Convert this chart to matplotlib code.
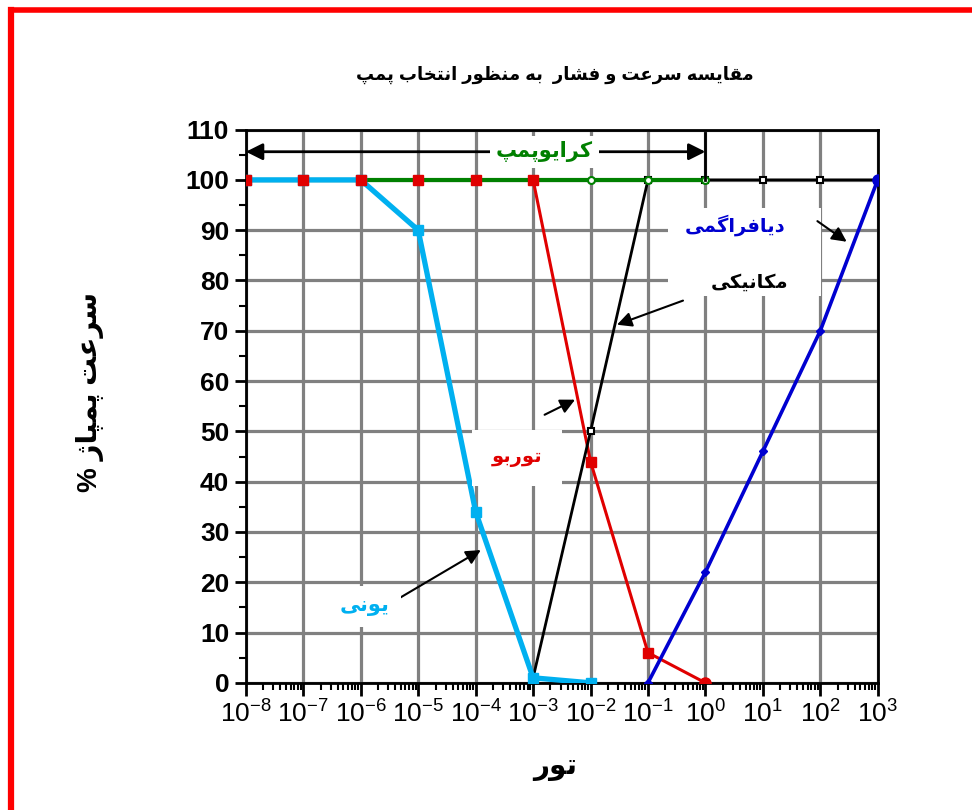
#!/usr/bin/env python3

# Pump speed vs pressure chart (Persian labels).

import numpy as np
import matplotlib
matplotlib.use("Agg")
import matplotlib.pyplot as plt
from matplotlib.ticker import MultipleLocator, LogLocator, NullFormatter
from matplotlib.patches import Rectangle

plt.rcParams['font.family'] = ['Liberation Sans', 'DejaVu Sans']
plt.rcParams['mathtext.fontset'] = 'custom'
plt.rcParams['mathtext.rm'] = 'Liberation Sans'
plt.rcParams['mathtext.it'] = 'Liberation Sans:italic'
plt.rcParams['mathtext.bf'] = 'Liberation Sans:bold'

# Arabic presentation forms: isolated, final, initial, medial
FORMS = {
    'ا': ('\uFE8D', '\uFE8E', None, None),
    'ب': ('\uFE8F', '\uFE90', '\uFE91', '\uFE92'),
    'ت': ('\uFE95', '\uFE96', '\uFE97', '\uFE98'),
    'خ': ('\uFEA5', '\uFEA6', '\uFEA7', '\uFEA8'),
    'د': ('\uFEA9', '\uFEAA', None, None),
    'ر': ('\uFEAD', '\uFEAE', None, None),
    'ژ': ('\uFB8A', '\uFB8B', None, None),
    'س': ('\uFEB1', '\uFEB2', '\uFEB3', '\uFEB4'),
    'ش': ('\uFEB5', '\uFEB6', '\uFEB7', '\uFEB8'),
    'ظ': ('\uFEC5', '\uFEC6', '\uFEC7', '\uFEC8'),
    'ع': ('\uFEC9', '\uFECA', '\uFECB', '\uFECC'),
    'ف': ('\uFED1', '\uFED2', '\uFED3', '\uFED4'),
    'ق': ('\uFED5', '\uFED6', '\uFED7', '\uFED8'),
    'ک': ('\uFB8E', '\uFB8F', '\uFB90', '\uFB91'),
    'گ': ('\uFB92', '\uFB93', '\uFB94', '\uFB95'),
    'م': ('\uFEE1', '\uFEE2', '\uFEE3', '\uFEE4'),
    'ن': ('\uFEE5', '\uFEE6', '\uFEE7', '\uFEE8'),
    'ه': ('\uFEE9', '\uFEEA', '\uFEEB', '\uFEEC'),
    'و': ('\uFEED', '\uFEEE', None, None),
    'پ': ('\uFB56', '\uFB57', '\uFB58', '\uFB59'),
    'ی': ('\uFBFC', '\uFBFD', '\uFBFE', '\uFBFF'),
}


def fa(s):
    """Shape Persian text and put it in visual (left-to-right) order."""
    out = []
    for i, c in enumerate(s):
        if c not in FORMS:
            out.append(c)
            continue
        prev = s[i - 1] if i > 0 else ''
        nxt = s[i + 1] if i + 1 < len(s) else ''
        iso, fin, ini, med = FORMS[c]
        jp = prev in FORMS and FORMS[prev][2] is not None
        jn = nxt in FORMS and ini is not None
        if jp and jn:
            out.append(med)
        elif jp:
            out.append(fin)
        elif jn:
            out.append(ini)
        else:
            out.append(iso)
    return ''.join(out)[::-1]


# Data (x as log10 of pressure in torr)
ion_x = [-8, -7, -6, -5, -4, -3, -2]
ion_y = [100, 100, 100, 90, 34, 1, 0]

turbo_x = [-8, -7, -6, -5, -4, -3, -2, -1, 0]
turbo_y = [100, 100, 100, 100, 100, 100, 44, 6, 0]

mech_x = [-3, -2, -1, 0, 1, 2, 3]
mech_y = [1, 50, 100, 100, 100, 100, 100]

cryo_x = [-8, -7, -6, -5, -4, -3, -2, -1, 0]
cryo_y = [100, 100, 100, 100, 100, 100, 100, 100, 100]

dia_x = [-1, 0, 1, 2, 3]
dia_y = [0, 22, 46, 70, 100]

x_ticks = list(range(-8, 4))
y_ticks = list(range(0, 111, 10))

TITLE = "مقایسه سرعت و فشار  به منظور انتخاب پمپ"
YLABEL = "سرعت پمپاژ %"
XLABEL = "تور"

fig = plt.figure(figsize=(9.72, 8.1), dpi=100)
ax = fig.add_axes([0.253, 0.157, 0.65, 0.683])

p = lambda xs: 10.0 ** np.array(xs, dtype=float)

# lines
ax.plot(p(turbo_x), turbo_y, color='#e00000', lw=2.2, zorder=3)
ax.plot(p(mech_x), mech_y, color='black', lw=2.0, zorder=3)
ax.plot(p(cryo_x), cryo_y, color='#008000', lw=3.0, zorder=4)
ax.plot(p(ion_x), ion_y, color='#00b0f0', lw=3.8, zorder=5)
ax.plot(p(dia_x), dia_y, color='#0000d0', lw=2.6, zorder=5)

# markers
ax.plot(p(mech_x), mech_y, ls='none', marker='s', ms=5, mfc='white',
        mec='black', mew=1.5, zorder=6)
ax.plot(p(cryo_x), cryo_y, ls='none', marker='o', ms=5, mfc='white',
        mec='#008000', mew=1.5, zorder=6)
ax.plot(p(ion_x), ion_y, ls='none', marker='s', ms=7, color='#00b0f0', zorder=6)
ax.plot(p(turbo_x[:-1]), turbo_y[:-1], ls='none', marker='s', ms=7,
        color='#e00000', zorder=7)
ax.plot(p(turbo_x[-1:]), turbo_y[-1:], ls='none', marker='o', ms=8,
        color='#e00000', zorder=7)
ax.plot(p(dia_x[:-1]), dia_y[:-1], ls='none', marker='D', ms=4,
        color='#0000d0', zorder=7)
ax.plot(p(dia_x[-1:]), dia_y[-1:], ls='none', marker='o', ms=8,
        color='#0000d0', zorder=7)

# cryopump range arrow
ax.annotate('', xy=(1e-8, 105.6), xytext=(1e0, 105.6),
            arrowprops=dict(arrowstyle='<|-|>', color='black', lw=2,
                            mutation_scale=25, shrinkA=0, shrinkB=0), zorder=8)
ax.plot([1e0, 1e0], [100, 109.3], color='black', lw=2, zorder=8)
ax.text(10 ** -2.8, 105.6, fa("کرایوپمپ"), color='#008000', fontsize=15,
        fontweight='bold', ha='center', va='center', zorder=9,
        bbox=dict(facecolor='white', edgecolor='none', pad=4))

# white area behind the diaphragm / mechanical labels
ax.add_patch(Rectangle((10 ** -0.65, 77), 10 ** 2.02 - 10 ** -0.65, 17.5,
                       facecolor='white', edgecolor='none', zorder=2))

ax.text(10 ** 0.51, 91, fa("دیافراگمی"), color='#0000d0', fontsize=14,
        fontweight='bold', ha='center', va='center', zorder=9)
ax.annotate('', xy=(10 ** 2.46, 87.7), xytext=(10 ** 1.95, 91.8),
            arrowprops=dict(arrowstyle='-|>', color='black', lw=1.5,
                            mutation_scale=22, shrinkA=0, shrinkB=0), zorder=8)

ax.text(10 ** 0.77, 79.5, fa("مکانیکی"), color='black', fontsize=14,
        fontweight='bold', ha='center', va='center', zorder=9)
ax.annotate('', xy=(10 ** -1.54, 71.2), xytext=(10 ** -0.39, 76),
            arrowprops=dict(arrowstyle='-|>', color='black', lw=1.5,
                            mutation_scale=22, shrinkA=0, shrinkB=0), zorder=8)

ax.text(10 ** -3.28, 44.7, fa("توربو"), color='#e00000', fontsize=14,
        fontweight='bold', ha='center', va='center', zorder=9,
        bbox=dict(facecolor='white', edgecolor='none', pad=14))
ax.annotate('', xy=(10 ** -2.27, 56.3), xytext=(10 ** -2.8, 53.3),
            arrowprops=dict(arrowstyle='-|>', color='black', lw=1.5,
                            mutation_scale=22, shrinkA=0, shrinkB=0), zorder=8)

ax.text(10 ** -5.93, 15.1, fa("یونی"), color='#00b0f0', fontsize=15,
        fontweight='bold', ha='center', va='center', zorder=9,
        bbox=dict(facecolor='white', edgecolor='none', pad=8))
ax.annotate('', xy=(10 ** -3.91, 26.4), xytext=(10 ** -5.32, 16.9),
            arrowprops=dict(arrowstyle='-|>', color='black', lw=1.5,
                            mutation_scale=22, shrinkA=0, shrinkB=0), zorder=8)

# Axes
ax.set_xscale('log')
ax.set_xlim(1e-8, 1e3)
ax.set_ylim(0, 110)
ax.set_xticks(p(x_ticks))
ax.set_xticklabels([r'$10^{%d}$' % e for e in x_ticks])
ax.xaxis.set_minor_locator(LogLocator(base=10, subs=np.arange(2, 10), numticks=20))
ax.xaxis.set_minor_formatter(NullFormatter())
ax.set_yticks(y_ticks)
ax.yaxis.set_minor_locator(MultipleLocator(5))
for lab in ax.get_yticklabels():
    lab.set_fontweight('bold')
ax.tick_params(axis='x', which='major', labelsize=19, length=9, width=2,
               direction='out', pad=4)
ax.tick_params(axis='y', which='major', labelsize=19, length=8, width=2,
               direction='out', pad=4)
ax.tick_params(which='minor', length=5, width=1.5, direction='out')
for s in ax.spines.values():
    s.set_linewidth(2)
ax.set_axisbelow(True)
ax.grid(True, which='major', color='#808080', lw=2.3)

ax.set_ylabel(fa(YLABEL), fontsize=20, fontweight='bold')
ax.yaxis.set_label_coords(-0.225, 0.525)
ax.set_xlabel(fa(XLABEL), fontsize=20, fontweight='bold')
ax.xaxis.set_label_coords(0.489, -0.13)

fig.text(555 / 972, 1 - 75 / 810, fa(TITLE), ha='center', va='center',
         fontsize=13, fontweight='bold')

# red frame on left and top edges
fig.add_artist(plt.Line2D([11 / 972, 11 / 972], [0, 1 - 9.5 / 810],
                          color='red', lw=4.5, transform=fig.transFigure))
fig.add_artist(plt.Line2D([11 / 972, 1], [1 - 9.5 / 810, 1 - 9.5 / 810],
                          color='red', lw=4, transform=fig.transFigure))

plt.savefig("out.png", dpi=100)
plt.close()
